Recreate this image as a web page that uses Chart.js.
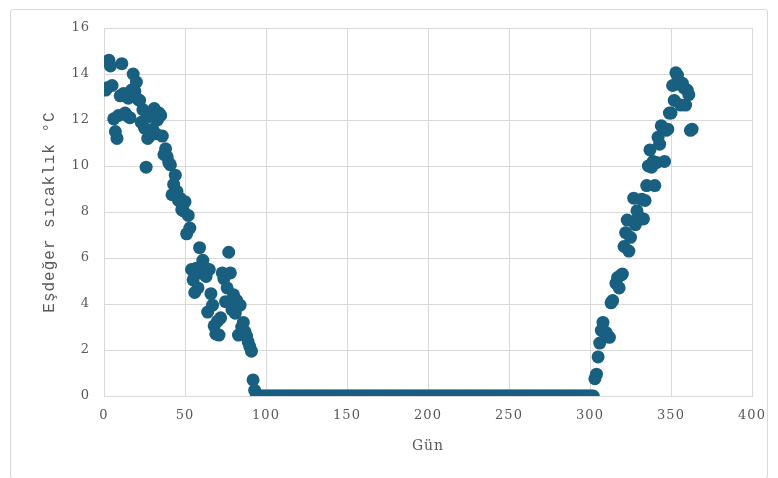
<!DOCTYPE html>
<html>
<head>
<meta charset="utf-8">
<script src="https://cdn.jsdelivr.net/npm/chart.js@4/dist/chart.umd.min.js"></script>
<style>
  html, body { margin: 0; padding: 0; background: #ffffff; }
  #wrap { position: relative; width: 778px; height: 478px; }
  #frame { position: absolute; left: 10px; top: 9px; width: 758px; height: 470px;
           border: 1px solid #d9d9d9; border-radius: 3px; box-sizing: border-box; }
  #c { position: absolute; left: 0; top: 0; }
</style>
</head>
<body>
<div id="wrap">
  <div id="frame"></div>
  <canvas id="c" width="778" height="478"></canvas>
</div>
<script>
// Equivalent temperature per day of year (°C)
const winterDays = [
  1, 2, 3, 4, 5, 6, 7, 8, 9, 10, 11, 12, 13, 14, 15, 16, 17, 18, 19, 20,
  21, 22, 23, 24, 25, 26, 27, 28, 29, 30, 31, 32, 33, 34, 35, 36, 37, 38, 39, 40,
  41, 42, 43, 44, 45, 46, 47, 48, 49, 50, 51, 52, 53, 54, 55, 56, 57, 58, 59, 60,
  61, 62, 63, 64, 65, 66, 67, 68, 69, 70, 71, 72, 73, 74, 75, 76, 77, 78, 79, 80,
  81, 82, 83, 84, 85, 86, 87, 88, 89, 90, 91, 92, 93
];
const winterTemps = [
  13.3, 13.4, 14.6, 14.35, 13.5, 12.05, 11.5, 11.2, 12.2, 13.05,
  14.45, 13.15, 12.3, 12.2, 12.95, 12.1, 13.3, 14.0, 13.25, 13.65,
  12.9, 12.85, 11.9, 12.45, 11.65, 9.95, 11.2, 12.15, 11.35, 11.6,
  12.5, 11.4, 12.0, 12.3, 12.2, 11.3, 10.5, 10.75, 10.4, 10.15,
  10.05, 8.75, 9.2, 9.6, 8.9, 8.5, 8.6, 8.1, 8.05, 8.45,
  7.05, 7.85, 7.3, 5.5, 5.05, 4.5, 5.55, 4.7, 6.45, 5.35,
  5.9, 5.6, 5.2, 3.65, 5.5, 4.45, 3.95, 3.05, 2.7, 3.25,
  2.65, 3.4, 5.35, 5.1, 4.1, 4.7, 6.25, 5.35, 3.75, 4.4,
  3.6, 4.15, 2.65, 3.95, 3.0, 3.2, 2.8, 2.6, 2.35, 2.15,
  1.95, 0.7, 0.25
];

// Summer days with no heating demand (equivalent temperature 0 °C)
const summerDays = [
  94, 95, 96, 97, 98, 99, 100, 101, 102, 103, 104, 105, 106, 107, 108, 109, 110, 111, 112, 113,
  114, 115, 116, 117, 118, 119, 120, 121, 122, 123, 124, 125, 126, 127, 128, 129, 130, 131, 132, 133,
  134, 135, 136, 137, 138, 139, 140, 141, 142, 143, 144, 145, 146, 147, 148, 149, 150, 151, 152, 153,
  154, 155, 156, 157, 158, 159, 160, 161, 162, 163, 164, 165, 166, 167, 168, 169, 170, 171, 172, 173,
  174, 175, 176, 177, 178, 179, 180, 181, 182, 183, 184, 185, 186, 187, 188, 189, 190, 191, 192, 193,
  194, 195, 196, 197, 198, 199, 200, 201, 202, 203, 204, 205, 206, 207, 208, 209, 210, 211, 212, 213,
  214, 215, 216, 217, 218, 219, 220, 221, 222, 223, 224, 225, 226, 227, 228, 229, 230, 231, 232, 233,
  234, 235, 236, 237, 238, 239, 240, 241, 242, 243, 244, 245, 246, 247, 248, 249, 250, 251, 252, 253,
  254, 255, 256, 257, 258, 259, 260, 261, 262, 263, 264, 265, 266, 267, 268, 269, 270, 271, 272, 273,
  274, 275, 276, 277, 278, 279, 280, 281, 282, 283, 284, 285, 286, 287, 288, 289, 290, 291, 292, 293,
  294, 295, 296, 297, 298, 299, 300, 301, 302
];
const summerTemps = [
  0, 0, 0, 0, 0, 0, 0, 0, 0, 0, 0, 0, 0, 0, 0, 0, 0, 0, 0, 0,
  0, 0, 0, 0, 0, 0, 0, 0, 0, 0, 0, 0, 0, 0, 0, 0, 0, 0, 0, 0,
  0, 0, 0, 0, 0, 0, 0, 0, 0, 0, 0, 0, 0, 0, 0, 0, 0, 0, 0, 0,
  0, 0, 0, 0, 0, 0, 0, 0, 0, 0, 0, 0, 0, 0, 0, 0, 0, 0, 0, 0,
  0, 0, 0, 0, 0, 0, 0, 0, 0, 0, 0, 0, 0, 0, 0, 0, 0, 0, 0, 0,
  0, 0, 0, 0, 0, 0, 0, 0, 0, 0, 0, 0, 0, 0, 0, 0, 0, 0, 0, 0,
  0, 0, 0, 0, 0, 0, 0, 0, 0, 0, 0, 0, 0, 0, 0, 0, 0, 0, 0, 0,
  0, 0, 0, 0, 0, 0, 0, 0, 0, 0, 0, 0, 0, 0, 0, 0, 0, 0, 0, 0,
  0, 0, 0, 0, 0, 0, 0, 0, 0, 0, 0, 0, 0, 0, 0, 0, 0, 0, 0, 0,
  0, 0, 0, 0, 0, 0, 0, 0, 0, 0, 0, 0, 0, 0, 0, 0, 0, 0, 0, 0,
  0, 0, 0, 0, 0, 0, 0, 0, 0
];

const autumnDays = [
  303, 304, 305, 306, 307, 308, 309, 310, 311, 312, 313, 314, 316, 317, 318, 319, 320, 321, 322, 323,
  324, 325, 327, 328, 329, 330, 331, 332, 333, 334, 335, 336, 337, 338, 339, 340, 341, 342, 343, 344,
  345, 346, 347, 348, 349, 350, 351, 352, 353, 354, 355, 356, 357, 358, 359, 360, 361, 362, 363
];
const autumnTemps = [
  0.75, 0.95, 1.7, 2.3, 2.85, 3.2, 2.8, 2.75, 2.6, 2.55, 4.05, 4.15, 4.9, 5.15, 4.7, 5.25, 5.3, 6.5, 7.1, 7.65,
  6.3, 6.9, 8.6, 7.45, 8.05, 7.8, 7.7, 8.55, 7.7, 8.5, 9.15, 10.0, 10.7, 9.95, 10.2, 9.15, 10.15, 11.25, 10.95, 11.75,
  11.65, 10.2, 11.55, 11.6, 12.3, 12.3, 13.5, 12.85, 14.05, 13.95, 13.55, 12.65, 13.6, 13.4, 12.65, 13.3, 13.1, 11.55, 11.6
];

const xTicks = [0, 50, 100, 150, 200, 250, 300, 350, 400];
const yTicks = [0, 2, 4, 6, 8, 10, 12, 14, 16];

const days = winterDays.concat(summerDays, autumnDays);
const temps = winterTemps.concat(summerTemps, autumnTemps);
const points = days.map((d, i) => ({ x: d, y: temps[i] }));

const textGray = '#595959';
const gridGray = '#d9d9d9';
const tickFont = { family: "'DejaVu Serif', serif", size: 13 };

const spacing = {
  id: 'spacing',
  beforeDraw(chart) { chart.ctx.letterSpacing = '1px'; }
};

new Chart(document.getElementById('c'), {
  type: 'scatter',
  data: {
    datasets: [{
      data: points,
      backgroundColor: '#185f80',
      borderColor: '#185f80',
      borderWidth: 0,
      pointRadius: 6.5,
      pointHoverRadius: 6.5
    }]
  },
  options: {
    responsive: false,
    animation: false,
    events: [],
    layout: { padding: { left: 0, right: 26, top: 28, bottom: 0 } },
    plugins: { legend: { display: false }, tooltip: { enabled: false } },
    scales: {
      x: {
        type: 'linear',
        min: 0, max: 400,
        afterBuildTicks(scale) { scale.ticks = xTicks.map(v => ({ value: v })); },
        afterFit(scale) { scale.height = 82; },
        grid: { color: gridGray, lineWidth: 1, drawTicks: false },
        border: { color: gridGray, width: 1 },
        ticks: { color: textGray, font: tickFont, padding: 12 },
        title: { display: true, text: 'Gün', color: textGray,
                 font: { family: "'DejaVu Serif', serif", size: 14 }, padding: { top: 6, bottom: 23 } }
      },
      y: {
        type: 'linear',
        min: 0, max: 16,
        afterBuildTicks(scale) { scale.ticks = yTicks.map(v => ({ value: v })); },
        afterFit(scale) { scale.width = 104; },
        grid: { color: gridGray, lineWidth: 1, drawTicks: false },
        border: { color: gridGray, width: 1 },
        ticks: { color: textGray, font: tickFont, padding: 14 },
        title: { display: true, text: 'Eşdeğer sıcaklık °C', color: textGray,
                 font: { family: "'Liberation Mono', monospace", size: 16 }, padding: { top: 40, bottom: 4 } }
      }
    }
  },
  plugins: [spacing]
});
</script>
</body>
</html>
